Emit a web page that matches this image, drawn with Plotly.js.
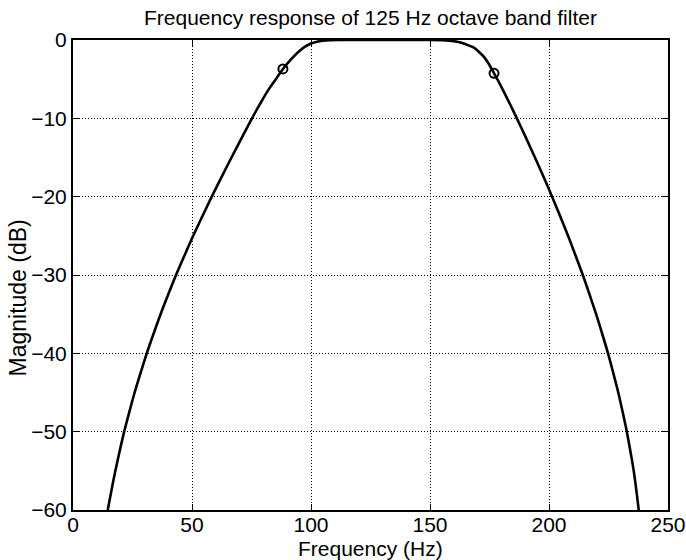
<!DOCTYPE html>
<html>
<head>
<meta charset="utf-8">
<script src="https://cdn.plot.ly/plotly-3.0.1.min.js"></script>
<style>html,body{margin:0;padding:0;background:#fff;}#chart{width:686px;height:560px;}</style>
</head>
<body>
<div id="chart"></div>
<script>
// Frequency (Hz) and magnitude (dB)
const freqHz = [14.6, 16.15, 17.8, 19.6, 21.5, 23.65, 25.9, 28.4, 31.0, 33.85, 36.8, 40.0, 43.3, 46.85, 50.5, 54.35, 58.3, 62.4, 66.6, 70.9, 75.2, 78.7, 82.0, 85.2, 88.2, 91.5, 94.8, 97.5, 100.0, 102.5, 105.0, 108.0, 112.0, 120.0, 130.0, 140.0, 150.0, 155.0, 158.0, 160.0, 162.5, 165.0, 168.3, 170.5, 172.5, 174.8, 176.9, 179.0, 181.0, 183.8, 186.5, 190.35, 194.1, 197.75, 201.3, 204.7, 208.0, 211.15, 214.2, 217.05, 219.8, 222.35, 224.8, 227.0, 229.1, 230.95, 232.7, 234.2, 235.6, 236.7, 237.7];
const magDb = [-60, -57.5, -55, -52.5, -50, -47.5, -45, -42.5, -40, -37.5, -35, -32.5, -30, -27.5, -25, -22.5, -20, -17.5, -15, -12.5, -10, -8.1, -6.4, -5.0, -3.7, -2.5, -1.5, -0.85, -0.45, -0.22, -0.1, -0.03, 0, 0, 0, 0, 0, -0.03, -0.08, -0.15, -0.3, -0.55, -0.95, -1.5, -2.1, -3.1, -4.25, -5.4, -6.6, -8.3, -10, -12.5, -15, -17.5, -20, -22.5, -25, -27.5, -30, -32.5, -35, -37.5, -40, -42.5, -45, -47.5, -50, -52.5, -55, -57.5, -60];
// Band edge markers
const edgeHz = [88.2, 176.9];
const edgeDb = [-3.7, -4.25];
const xTicks = [0, 50, 100, 150, 200, 250];
const yTicks = [0, -10, -20, -30, -40, -50, -60];
const xTitle = 'Frequency (Hz)';
const yTitle = 'Magnitude (dB)';

const font = {family: '"Liberation Sans", Arial, Helvetica, sans-serif', color: '#000', size: 21};
const yTitleFont = {family: '"Liberation Sans", Arial, Helvetica, sans-serif', color: '#000', size: 23};

const traces = [
  {x: freqHz, y: magDb, type: 'scatter', mode: 'lines',
   line: {color: '#000', width: 2.6, shape: 'spline', smoothing: 0.8}, hoverinfo: 'skip'},
  {x: edgeHz, y: edgeDb, type: 'scatter', mode: 'markers',
   marker: {symbol: 'circle-open', size: 9, color: '#000', line: {width: 2, color: '#000'}}}
];

const axisCommon = {
  showline: true, linecolor: '#000', linewidth: 2, mirror: 'ticks',
  ticks: 'inside', ticklen: 6, tickwidth: 1, tickcolor: '#000',
  showgrid: true, gridcolor: '#000', gridwidth: 1, griddash: '1px,2px',
  zeroline: false, tickfont: font, automargin: false
};

const layout = {
  width: 686, height: 560,
  margin: {l: 73, r: 18, t: 40, b: 50},
  paper_bgcolor: '#fff', plot_bgcolor: '#fff',
  showlegend: false, font: font,
  title: {text: 'Frequency response of 125 Hz octave band filter', font: font, x: 0.54, xanchor: 'center', y: 0.968, yanchor: 'middle'},
  xaxis: Object.assign({}, axisCommon, {range: [0, 250], tickvals: xTicks, ticklabelstandoff: -5}),
  yaxis: Object.assign({}, axisCommon, {range: [-60, 0], tickvals: yTicks, ticklabelstandoff: 0}),
  annotations: [
    {text: xTitle, xref: 'paper', yref: 'paper', x: 0.5, y: 0, xanchor: 'center', yanchor: 'top',
     yshift: -25, showarrow: false, font: font},
    {text: yTitle, xref: 'paper', yref: 'paper', x: 0, y: 0.45, xanchor: 'center', yanchor: 'middle',
     xshift: -56, textangle: -90, showarrow: false, font: yTitleFont}
  ]
};

Plotly.newPlot('chart', traces, layout, {displayModeBar: false, staticPlot: true});
</script>
</body>
</html>
